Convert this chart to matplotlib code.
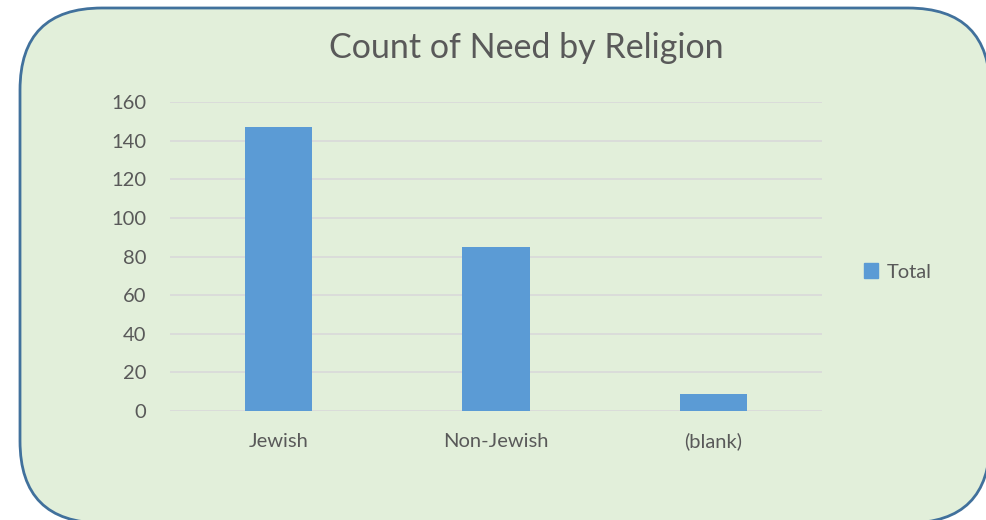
import matplotlib.pyplot as plt
from matplotlib.patches import FancyBboxPatch, Patch

# --- data ---
categories = ["Jewish", "Non-Jewish", "(blank)"]
totals = [147, 85, 9]
y_ticks = [0, 20, 40, 60, 80, 100, 120, 140, 160]

text_color = "#595959"
bar_color = "#5B9BD5"
bg_color = "#E2EFDA"
border_color = "#41719C"

plt.rcParams["font.family"] = ["Lato", "DejaVu Sans"]

W, H = 986, 520
fig = plt.figure(figsize=(W / 100, H / 100), dpi=100)
fig.patch.set_facecolor("white")

# background rounded box, drawn in pixel coordinates
bg = fig.add_axes([0, 0, 1, 1])
bg.set_xlim(0, W)
bg.set_ylim(H, 0)
bg.axis("off")
box = FancyBboxPatch((20, 8), 970, 515, boxstyle="round,pad=0,rounding_size=82",
                     facecolor=bg_color, edgecolor=border_color, linewidth=2)
bg.add_patch(box)

# plot area
ax = fig.add_axes([170 / W, 109 / H, 652 / W, 309 / H])
ax.set_facecolor("none")
x = range(len(categories))
ax.bar(x, totals, width=0.31, color=bar_color, zorder=3, label="Total")
ax.set_xlim(-0.5, len(categories) - 0.5)
ax.set_ylim(0, 160)
ax.set_yticks(y_ticks)
ax.set_xticks(list(x))
ax.set_xticklabels(categories, va="baseline")
ax.grid(axis="y", color="#D9D9D9", linewidth=1.2, zorder=0)
ax.tick_params(axis="both", length=0, colors=text_color, labelsize=14.5)
ax.tick_params(axis="y", pad=17)
ax.tick_params(axis="x", pad=26)
for s in ax.spines.values():
    s.set_visible(False)

fig.text(526 / W, 1 - 48 / H, "Count of Need by Religion", ha="center", va="center",
         fontsize=24.5, color=text_color)

ax.legend(handles=[Patch(color=bar_color, label="Total")], loc="center left",
          bbox_to_anchor=(846 / W, 1 - 272 / H), bbox_transform=fig.transFigure,
          frameon=False, fontsize=14.5, handlelength=0.7, handleheight=0.7,
          handletextpad=0.4, labelcolor=text_color)

fig.savefig("out.png", dpi=100)
